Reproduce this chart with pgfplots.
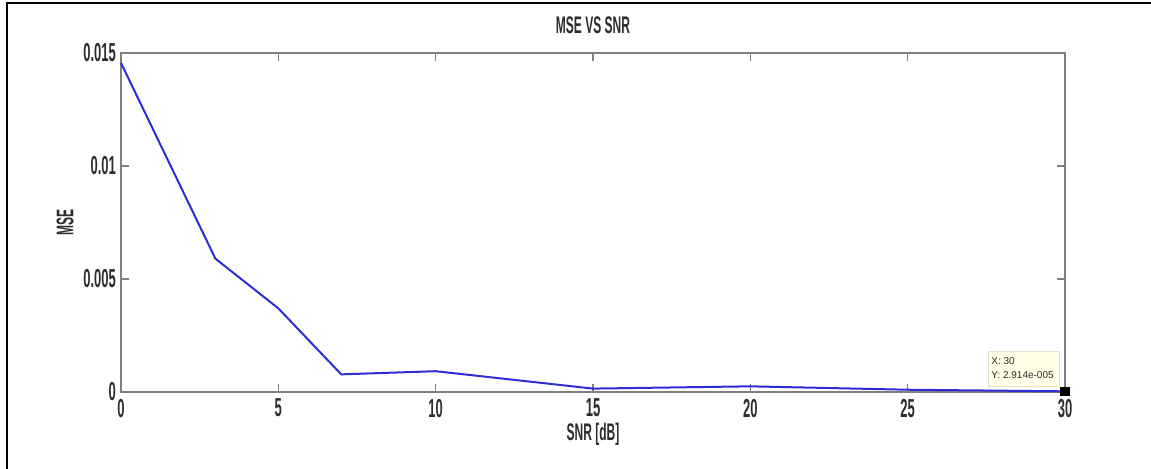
\documentclass[border=0pt]{standalone}
\usepackage{fontspec}
\setmainfont{Liberation Sans Bold}[FakeStretch=0.5]
\newfontfamily\tipfont{Liberation Sans}
\usepackage{pgfplots}
\pgfplotsset{compat=1.18}
\definecolor{axgray}{RGB}{128,128,128}
\definecolor{txt}{RGB}{45,45,45}
\definecolor{lineblue}{RGB}{45,45,215}
\definecolor{tipfill}{RGB}{255,255,232}
\definecolor{tipdraw}{RGB}{225,225,205}
\begin{document}
\begin{tikzpicture}[x=1pt,y=1pt]
\useasboundingbox (0,0) rectangle (575.5,234.5);
\draw[black, line width=0.9pt] (3.5,0) -- (3.5,233) -- (575.5,233);
\begin{axis}[
  at={(60.5pt,38.5pt)}, anchor=south west,
  scale only axis, width=472pt, height=169.5pt,
  xmin=0, xmax=30, ymin=0, ymax=0.015,
  xtick={0,5,10,15,20,25,30},
  xticklabels={0,5,10,15,20,25,30},
  ytick={0,0.005,0.01,0.015},
  yticklabels={0,0.005,0.01,0.015},
  scaled y ticks=false,
  tick align=inside,
  major tick length=4pt,
  axis line style={axgray, line width=0.8pt},
  every tick/.style={axgray, line width=0.6pt},
  tick label style={font=\fontsize{13}{15}\selectfont, text=txt},
  /pgf/number format/assume math mode=true,
  xticklabel style={yshift=0pt},
  yticklabel style={xshift=1pt},
  title={MSE VS SNR},
  title style={font=\fontsize{12}{14}\selectfont, text=txt, yshift=0pt},
  xlabel={SNR [dB]},
  xlabel style={font=\fontsize{12}{14}\selectfont, text=txt, yshift=4pt},
  ylabel={MSE},
  ylabel style={font=\fontsize{12}{14}\selectfont, text=txt, yshift=-2pt},
  clip=false,
]
\addplot[lineblue, line width=1pt] coordinates {
  (0,0.01456) (3,0.0059) (5,0.0037) (7,0.00078) (10,0.00092)
  (15,0.00015) (20,0.00025) (25,0.0001) (30,0.00002914)
};
\addplot[only marks, mark=square*, mark size=2.2pt, black] coordinates {(30,0.00002914)};
\end{axis}
\draw[tipdraw, fill=tipfill, line width=0.5pt] (494,41) rectangle (529.5,58.5);
\node[anchor=west, inner sep=0pt, font=\tipfont\fontsize{5}{6}\selectfont, text=txt] at (495.5,54) {X: 30};
\node[anchor=west, inner sep=0pt, font=\tipfont\fontsize{5}{6}\selectfont, text=txt] at (495.5,47) {Y: 2.914e-005};
\end{tikzpicture}
\end{document}
